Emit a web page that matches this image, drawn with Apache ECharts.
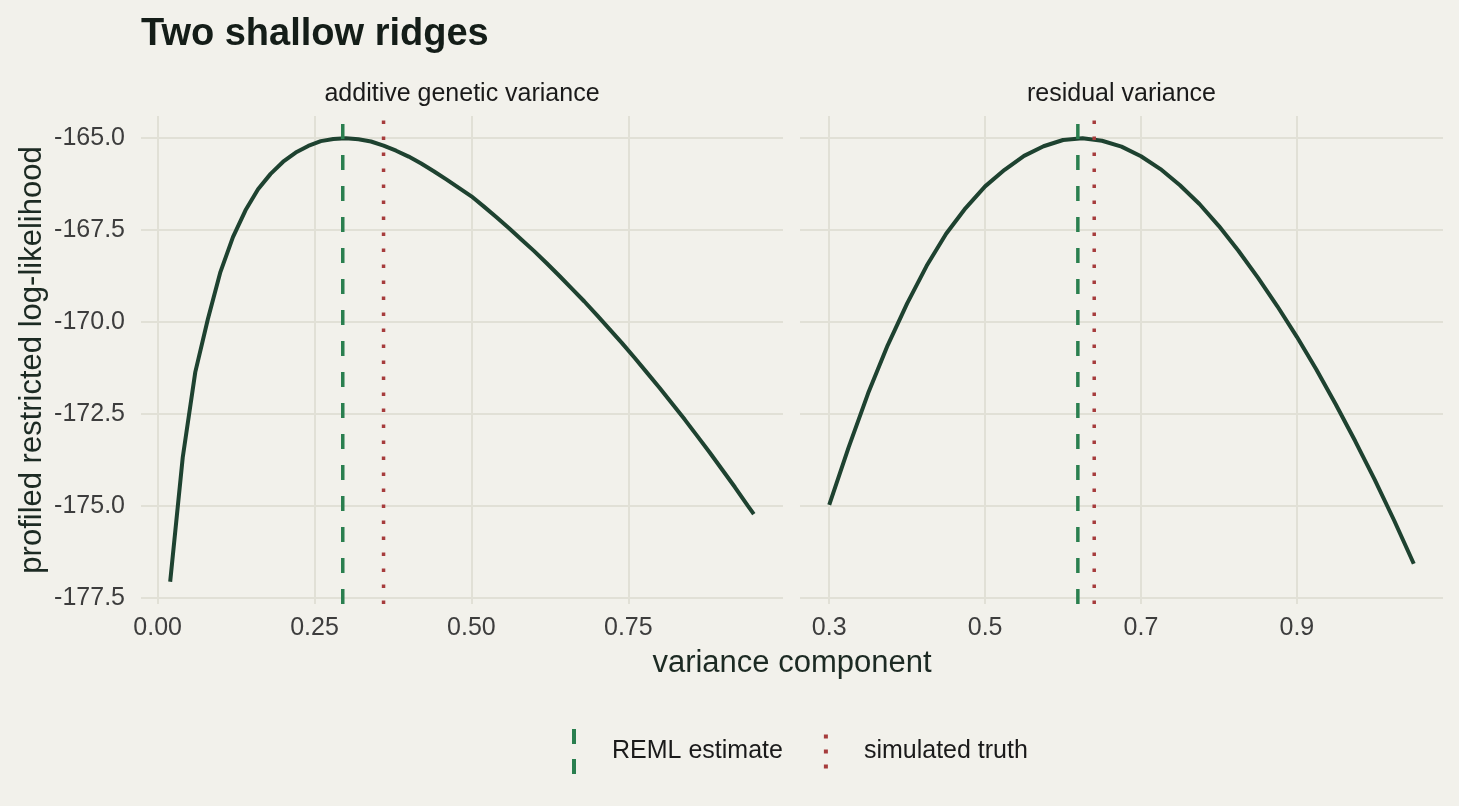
<!DOCTYPE html>
<html>
<head>
<meta charset="utf-8">
<title>Two shallow ridges</title>
<script src="https://cdn.jsdelivr.net/npm/echarts@6/dist/echarts.min.js"></script>
<style>
    html, body { margin: 0; padding: 0; background: #f2f1eb; }
    #chart { width: 1459px; height: 806px; }
</style>
</head>
<body>
<div id="chart"></div>
<script>
// profile for the additive genetic variance panel
var additiveX = [0.02, 0.04, 0.06, 0.08, 0.10, 0.12, 0.14, 0.16, 0.18, 0.20,
    0.22, 0.24, 0.26, 0.28, 0.30, 0.32, 0.34, 0.36, 0.38, 0.40,
    0.42, 0.44, 0.46, 0.48, 0.50, 0.52, 0.54, 0.56, 0.58, 0.60,
    0.62, 0.64, 0.66, 0.68, 0.70, 0.72, 0.74, 0.76, 0.78, 0.80,
    0.82, 0.84, 0.86, 0.88, 0.90, 0.92, 0.94, 0.95];
var additiveLogLik = [-177.06, -173.68, -171.36, -169.92, -168.64, -167.69, -166.96, -166.39, -165.97, -165.64,
    -165.39, -165.21, -165.08, -165.02, -165.00, -165.03, -165.09, -165.20, -165.34, -165.50,
    -165.69, -165.90, -166.12, -166.35, -166.58, -166.86, -167.15, -167.45, -167.76, -168.07,
    -168.40, -168.74, -169.09, -169.44, -169.81, -170.19, -170.57, -170.97, -171.38, -171.79,
    -172.22, -172.65, -173.10, -173.55, -174.02, -174.49, -174.98, -175.22];

// profile for the residual variance panel
var residualX = [0.300, 0.325, 0.350, 0.375, 0.400, 0.425, 0.450, 0.475, 0.500, 0.525,
    0.550, 0.575, 0.600, 0.625, 0.650, 0.675, 0.700, 0.725, 0.750, 0.775,
    0.800, 0.825, 0.850, 0.875, 0.900, 0.925, 0.950, 0.975, 1.000, 1.025, 1.050];
var residualLogLik = [-174.97, -173.40, -171.93, -170.63, -169.49, -168.47, -167.60, -166.90, -166.31, -165.86,
    -165.48, -165.22, -165.05, -165.00, -165.07, -165.23, -165.49, -165.84, -166.28, -166.79,
    -167.39, -168.06, -168.79, -169.57, -170.40, -171.29, -172.24, -173.24, -174.29, -175.40, -176.57];

var panelNames = ['additive genetic variance', 'residual variance'];
var remlEstimates = [0.295, 0.619];
var simulatedTruth = [0.36, 0.64];

var yTicks = [-177.5, -175, -172.5, -170, -167.5, -165];
var additiveTicks = [0, 0.25, 0.5, 0.75];
var residualTicks = [0.3, 0.5, 0.7, 0.9];
</script>
<script>
(function () {

    var font = '"Liberation Sans", Arial, Helvetica, sans-serif';
    var bg = '#f2f1eb';
    var gridColor = '#e1e0d6';
    var curveColor = '#1e4230';
    var remlColor = '#2a7f4f';
    var truthColor = '#a63c3c';
    var tickColor = '#3d3d3d';
    var titleColor = '#1c2a23';

    var yRange = expand(
        Math.min(Math.min.apply(null, additiveLogLik), Math.min.apply(null, residualLogLik)),
        Math.max(Math.max.apply(null, additiveLogLik), Math.max.apply(null, residualLogLik))
    );
    var additiveRange = expand(additiveX[0], additiveX[additiveX.length - 1]);
    var residualRange = expand(residualX[0], residualX[residualX.length - 1]);

    var chart = window.echarts.init(document.getElementById('chart'));

    var option = {
        backgroundColor: bg,
        animation: false,
        textStyle: { fontFamily: font },
        title: [
            {
                text: 'Two shallow ridges',
                left: 141,
                top: 16,
                padding: 0,
                textStyle: { fontSize: 38, fontWeight: 'bold', color: '#141d18', fontFamily: font }
            },
            stripTitle(panelNames[0], 462),
            stripTitle(panelNames[1], 1121.5),
            {
                text: 'variance component',
                left: 792,
                top: 648,
                padding: 0,
                textAlign: 'center',
                textStyle: { fontSize: 31, fontWeight: 'normal', color: titleColor, fontFamily: font }
            }
        ],
        legend: {
            left: 567,
            top: 724,
            itemWidth: 4,
            itemHeight: 45,
            itemGap: 41,
            selectedMode: false,
            symbolKeepAspect: true,
            itemStyle: { borderWidth: 0 },
            textStyle: { fontSize: 25, color: '#1a1a1a', fontFamily: font, padding: [0, 0, 0, 31] },
            data: [
                {
                    name: 'REML estimate',
                    icon: 'path://M0,0h4v15h-4z M0,30h4v15h-4z',
                    itemStyle: { color: remlColor, borderWidth: 0 }
                },
                {
                    name: 'simulated truth',
                    icon: 'path://M0,0h4v4h-4z M0,15h4v4h-4z M0,30h4v4h-4z',
                    itemStyle: { color: truthColor, borderWidth: 0 }
                }
            ]
        },
        grid: [
            { left: 141, top: 116, width: 642, height: 488 },
            { left: 800, top: 116, width: 643, height: 488 }
        ],
        xAxis: [
            xAxisFor(0, additiveRange, additiveTicks, 2),
            xAxisFor(1, residualRange, residualTicks, 1)
        ],
        yAxis: [
            yAxisFor(0, true),
            yAxisFor(1, false)
        ],
        series: [
            curveSeries(0, additiveX, additiveLogLik),
            curveSeries(1, residualX, residualLogLik),
            vlineSeries('REML estimate', 0, remlEstimates[0], remlColor, [15, 16]),
            vlineSeries('REML estimate', 1, remlEstimates[1], remlColor, [15, 16]),
            vlineSeries('simulated truth', 0, simulatedTruth[0], truthColor, [3.5, 12.5]),
            vlineSeries('simulated truth', 1, simulatedTruth[1], truthColor, [3.5, 12.5])
        ]
    };

    chart.setOption(option);

    // ggplot style 5% padding on each side of the data range
    function expand(lo, hi) {
        var pad = (hi - lo) * 0.05;
        return [lo - pad, hi + pad];
    }

    function stripTitle(text, center) {
        return {
            text: text,
            left: center,
            top: 82,
            padding: 0,
            textAlign: 'center',
            textStyle: { fontSize: 25, fontWeight: 'normal', color: '#1a1a1a', fontFamily: font }
        };
    }

    function xAxisFor(index, range, ticks, digits) {
        return {
            type: 'value',
            gridIndex: index,
            min: range[0],
            max: range[1],
            axisLine: { show: false },
            axisTick: { show: false, customValues: ticks },
            axisLabel: {
                customValues: ticks,
                margin: 12,
                fontSize: 25,
                color: tickColor,
                fontFamily: font,
                formatter: function (v) { return v.toFixed(digits); }
            },
            splitLine: { show: true, lineStyle: { color: gridColor, width: 2 } }
        };
    }

    function yAxisFor(index, withLabels) {
        var axis = {
            type: 'value',
            gridIndex: index,
            min: yRange[0],
            max: yRange[1],
            axisLine: { show: false },
            axisTick: { show: false, customValues: yTicks },
            axisLabel: {
                show: withLabels,
                customValues: yTicks,
                margin: 16,
                fontSize: 25,
                color: tickColor,
                fontFamily: font,
                formatter: function (v) { return v.toFixed(1); }
            },
            splitLine: { show: true, lineStyle: { color: gridColor, width: 2 } }
        };
        if (withLabels) {
            axis.name = 'profiled restricted log-likelihood';
            axis.nameLocation = 'middle';
            axis.nameGap = 93;
            axis.nameTextStyle = { fontSize: 31, color: titleColor, fontFamily: font };
        }
        return axis;
    }

    function curveSeries(index, xs, ys) {
        var data = [];
        for (var i = 0; i < xs.length; i++) {
            data.push([xs[i], ys[i]]);
        }
        return {
            type: 'line',
            name: panelNames[index],
            xAxisIndex: index,
            yAxisIndex: index,
            data: data,
            showSymbol: false,
            smooth: false,
            silent: true,
            lineStyle: { color: curveColor, width: 4 },
            itemStyle: { color: curveColor },
            z: 3
        };
    }

    function vlineSeries(name, index, x, color, dash) {
        return {
            type: 'line',
            name: name,
            xAxisIndex: index,
            yAxisIndex: index,
            data: [[x, yRange[0]], [x, yRange[1]]],
            showSymbol: false,
            silent: true,
            lineStyle: { color: color, width: 3.5, type: dash, cap: 'butt' },
            itemStyle: { color: color },
            z: 4
        };
    }
})()
</script>
</body>
</html>
